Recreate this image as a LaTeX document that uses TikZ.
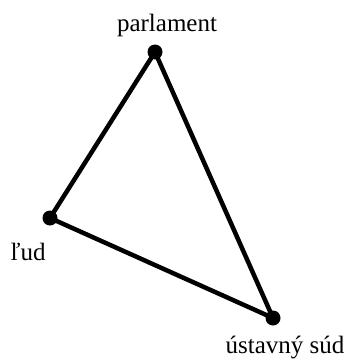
\documentclass[tikz,border=0pt]{standalone}
\usepackage{fontspec}
\setmainfont{Liberation Serif}

\begin{document}
\begin{tikzpicture}[x=1pt,y=-1pt,font=\fontsize{25}{30}\selectfont,dot/.style={circle,fill=black,inner sep=0pt,minimum size=15pt},side/.style={line width=4.5pt,line join=round},lbl/.style={anchor=base,inner sep=0pt}]
\useasboundingbox (0,0) rectangle (355,361);
\node[dot] (parl) at (155,52) {};
\node[dot] (lud) at (50,218) {};
\node[dot] (sud) at (273,318) {};
\draw[side] (parl.center) -- (lud.center) -- (sud.center) -- cycle;
\node[lbl] (parltext) at (167,32) {parlament};
\node[lbl] (ludtext) at (28,260) {ľud};
\node[lbl] (sudtext) at (285,353) {ústavný súd};
\end{tikzpicture}
\end{document}
